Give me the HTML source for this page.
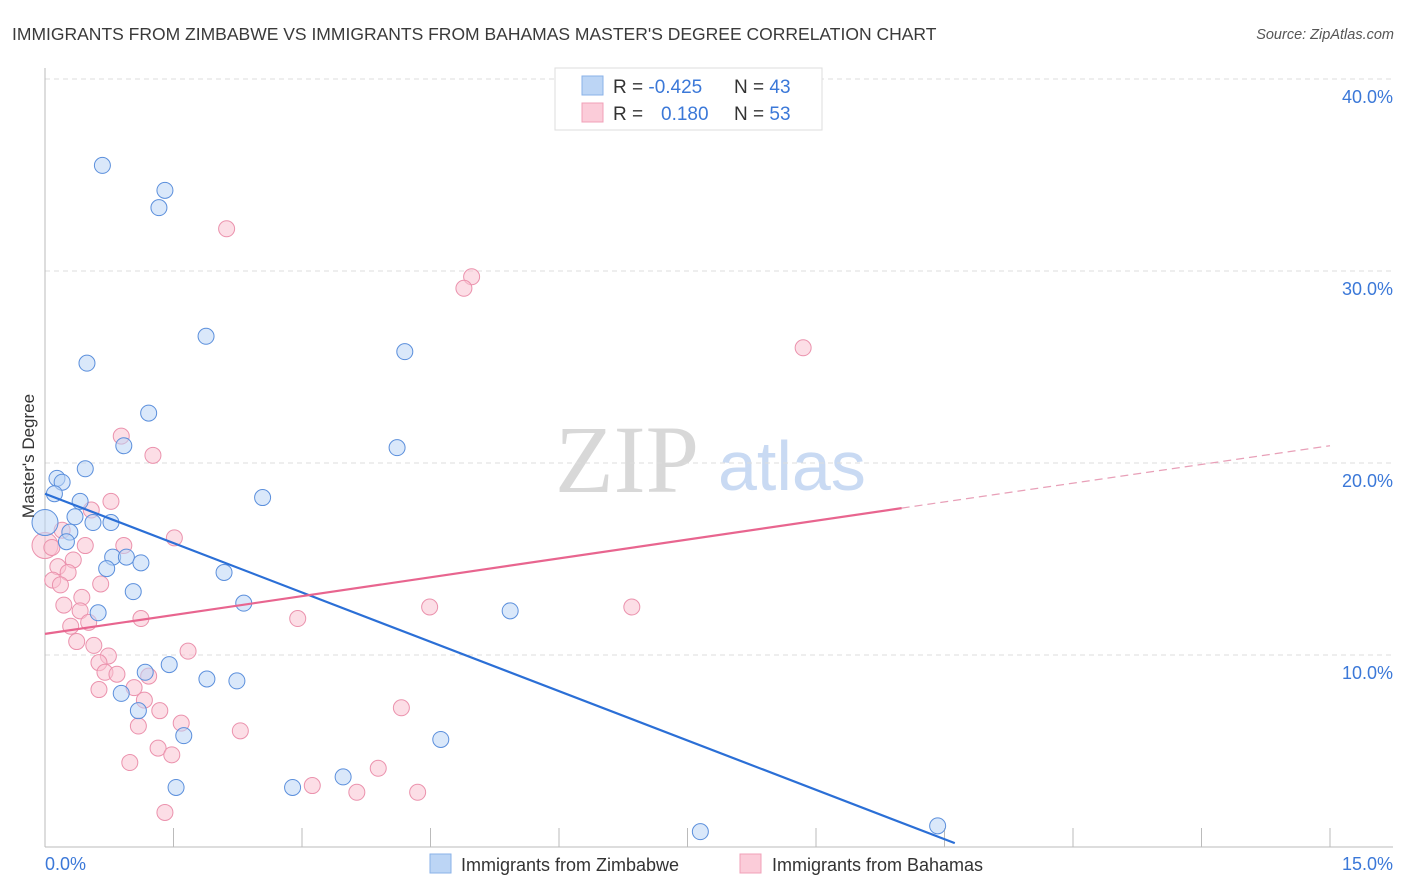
<!DOCTYPE html>
<html><head><meta charset="utf-8"><style>
body{margin:0;background:#fff;font-family:"Liberation Sans",sans-serif;}
svg{display:block}
</style></head><body>
<svg id="chart" width="1406" height="892" viewBox="0 0 1406 892">
<text x="12" y="40" font-size="17.5" fill="#3a3a3a">IMMIGRANTS FROM ZIMBABWE VS IMMIGRANTS FROM BAHAMAS MASTER'S DEGREE CORRELATION CHART</text>
<text x="1394" y="39" font-size="14.5" fill="#555" font-style="italic" text-anchor="end">Source: ZipAtlas.com</text>
<text x="555" y="492" font-size="96" fill="#d8d8d8" font-family="Liberation Serif,serif">ZIP</text>
<text x="718" y="490" font-size="70" fill="#c9daf3">atlas</text>
<g id="grid"></g>
<g id="axes"></g>
<g id="marks"></g>
<text transform="translate(34,456) rotate(-90)" font-size="17" fill="#333" text-anchor="middle">Master's Degree</text>
<text x="45" y="870" font-size="18" fill="#3b78d8">0.0%</text>
<text x="1393" y="870" font-size="18" fill="#3b78d8" text-anchor="end">15.0%</text>
<g>
<rect x="555" y="68" width="267" height="62" fill="#fff" stroke="#ddd"/>
<rect x="582" y="76" width="21" height="19" fill="#bcd5f5" stroke="#8ab2e8"/>
<rect x="582" y="103" width="21" height="19" fill="#fbccd9" stroke="#f0a0b8"/>
<text x="613" y="93" font-size="19" fill="#333">R = <tspan fill="#3b78d8">-0.425</tspan></text>
<text x="734" y="93" font-size="19" fill="#333">N = <tspan fill="#3b78d8">43</tspan></text>
<text x="613" y="120" font-size="19" fill="#333">R = <tspan fill="#3b78d8" x="661">0.180</tspan></text>
<text x="734" y="120" font-size="19" fill="#333">N = <tspan fill="#3b78d8">53</tspan></text>
</g>
<g>
<rect x="430" y="854" width="21" height="19" fill="#bcd5f5" stroke="#8ab2e8"/>
<text x="461" y="871" font-size="18" fill="#333">Immigrants from Zimbabwe</text>
<rect x="740" y="854" width="21" height="19" fill="#fbccd9" stroke="#f0a0b8"/>
<text x="772" y="871" font-size="18" fill="#333">Immigrants from Bahamas</text>
</g>
</svg>
<script>
const yTicks=[10,20,30,40];
const yTickLabels=["10.0%","20.0%","30.0%","40.0%"];
const xTicks=[0,1.5,3,4.5,6,7.5,9,10.5,12,13.5,15];
const blueX=[0.67,1.40,1.33,1.88,4.20,0.49,1.21,0.92,4.11,0.47,0.14,0.20,0.11,0.41,2.54,0.35,0.56,0.77,0.0,0.29,0.25,0.79,0.95,1.12,0.72,2.09,1.03,0.62,2.32,5.43,1.17,1.45,1.89,2.24,0.89,1.09,1.62,4.62,3.48,2.89,1.53,7.65,10.42];
const blueY=[35.5,34.2,33.3,26.6,25.8,25.2,22.6,20.9,20.8,19.7,19.2,19.0,18.4,18.0,18.2,17.2,16.9,16.9,16.9,16.4,15.9,15.1,15.1,14.8,14.5,14.3,13.3,12.2,12.7,12.3,9.1,9.5,8.75,8.65,8.0,7.1,5.8,5.6,3.65,3.1,3.1,0.8,1.1];
const pinkX=[2.12,4.98,4.89,8.85,0.89,1.26,0.77,0.54,1.51,0.0,0.08,0.47,0.92,0.33,0.15,0.27,0.65,0.09,0.18,0.43,0.22,0.41,4.49,6.85,2.95,1.12,0.51,0.30,0.37,0.57,1.67,0.74,0.63,0.70,0.84,1.21,1.04,0.63,1.16,1.34,4.16,1.59,1.09,2.28,1.32,1.48,0.99,3.89,3.12,3.64,4.35,1.40,0.2];
const pinkY=[32.2,29.7,29.1,26.0,21.4,20.4,18.0,17.55,16.1,15.7,15.6,15.7,15.7,14.95,14.6,14.3,13.7,13.9,13.65,13.0,12.6,12.3,12.5,12.5,11.9,11.9,11.7,11.5,10.7,10.5,10.2,9.95,9.6,9.1,9.0,8.9,8.3,8.2,7.65,7.1,7.25,6.45,6.3,6.05,5.15,4.8,4.4,4.1,3.2,2.85,2.85,1.8,16.5];
const blueTrend=[18.4,-0.425];   // intercept, end (x=10.62 -> 0.2)
const blueTrendX=[0,10.62]; const blueTrendY=[18.4,0.2];
const pinkTrendX=[0,10,15]; const pinkTrendY=[11.1,17.65,20.9];

const NS="http://www.w3.org/2000/svg";
const X0=45,X1=1330,Y0=847,YS=19.2;
const xs=v=>X0+v*(X1-X0)/15;
const ys=v=>Y0-v*YS;
function mk(t,a,p){const e=document.createElementNS(NS,t);for(const k in a)e.setAttribute(k,a[k]);p.appendChild(e);return e;}
const grid=document.getElementById('grid'),axes=document.getElementById('axes'),marks=document.getElementById('marks');
yTicks.forEach((t,i)=>{
  const l=mk('line',{x1:X0,x2:1393,y1:ys(t),y2:ys(t),stroke:'#ddd','stroke-dasharray':'5,4'},grid);
  
  
  const tx=mk('text',{x:1393,y:ys(t)+24,'font-size':18,fill:'#3b78d8','text-anchor':'end'},grid);
  tx.textContent=yTickLabels[i];
  
  
});
const ax=mk('line',{x1:X0,x2:X0,y1:68,y2:Y0,stroke:'#bbb'},axes);


const bx=mk('line',{x1:X0,x2:1393,y1:Y0,y2:Y0,stroke:'#bbb'},axes);


xTicks.forEach(t=>{
  const l=mk('line',{x1:xs(t),x2:xs(t),y1:828,y2:Y0,stroke:'#bbb'},axes);
  
  
});
function dots(X,Y,fill,stroke,name){
  X.forEach((x,i)=>{
    const big=(x===0);
    const c=mk('circle',{cx:xs(x),cy:ys(Y[i]),r:big?13:8,fill:fill,'fill-opacity':0.55,stroke:stroke,'stroke-width':1},marks);
    
    
  });
}
dots(pinkX,pinkY,'#f9c2d2','#eb92ad','bahamas-point');
dots(blueX,blueY,'#bcd5f5','#5b8fdc','zimbabwe-point');
const bt=mk('line',{x1:xs(blueTrendX[0]),y1:ys(blueTrendY[0]),x2:xs(blueTrendX[1]),y2:ys(blueTrendY[1]),stroke:'#2b6fd6','stroke-width':2.2},marks);


const pt=mk('line',{x1:xs(pinkTrendX[0]),y1:ys(pinkTrendY[0]),x2:xs(pinkTrendX[1]),y2:ys(pinkTrendY[1]),stroke:'#e8658f','stroke-width':2.2},marks);


const pd=mk('line',{x1:xs(pinkTrendX[1]),y1:ys(pinkTrendY[1]),x2:xs(pinkTrendX[2]),y2:ys(pinkTrendY[2]),stroke:'#e8a0b8','stroke-width':1.2,'stroke-dasharray':'8,5'},marks);


</script>
</body></html>
